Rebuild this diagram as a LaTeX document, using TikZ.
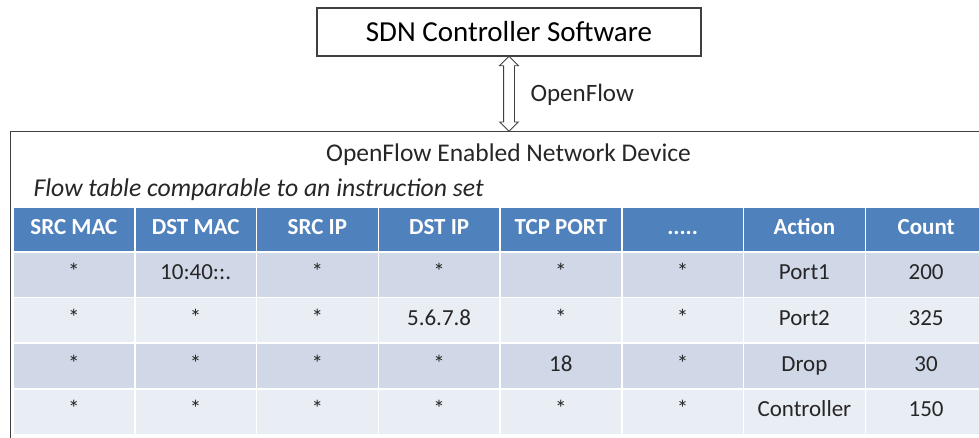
\documentclass[tikz,border=0pt]{standalone}
\usepackage{fontspec}
\setmainfont{Carlito}
\usetikzlibrary{shapes.arrows,calc}
\definecolor{hdrblue}{HTML}{4F81BD}
\definecolor{rowdark}{HTML}{D0D8E8}
\definecolor{rowlight}{HTML}{E9EDF4}
\definecolor{txtgray}{HTML}{262626}
\newcommand\moredots{.....}

\begin{document}
\begin{tikzpicture}[x=1pt,y=-1pt,
  box/.style={draw=black!75,line width=1.2pt,inner sep=0pt},
  cell/.style={draw=white,line width=1.5pt,minimum width=121.75pt,minimum height=45.6pt,
    inner sep=0pt,text height=13pt,text depth=3pt,text=txtgray,font=\fontsize{23}{27}\selectfont},
  head cell/.style={cell,fill=hdrblue,minimum height=45pt,text=white,font=\fontsize{23}{27}\selectfont\bfseries}]
  \useasboundingbox (0,0) rectangle (979,437);
  \clip (0,0) rectangle (979,437);

  \node[box,minimum width=384pt,minimum height=48pt,font=\fontsize{29}{34}\selectfont] (sdn) at (509,32) {SDN Controller Software};
  \node[box,anchor=north west,minimum width=1000pt,minimum height=340pt] (dev) at (10,131) {};
  \node[double arrow,draw=black!75,line width=0.8pt,rotate=90,inner sep=5pt,
    minimum height=75pt,minimum width=18pt,double arrow head extend=4pt]
    (ofarrow) at ($(sdn.south)!0.5!(sdn.south |- dev.north)$) {};
  \node[anchor=west,font=\fontsize{25}{30}\selectfont,text=txtgray] (oflabel) at (527,95) {OpenFlow};

  \node[font=\fontsize{25.5}{30}\selectfont,text=txtgray] (devname) at (508.5,155) {OpenFlow Enabled Network Device};
  \node[anchor=west,font=\fontsize{25.7}{30}\selectfont\itshape,text=txtgray] (tabname) at (30,190) {Flow table comparable to an instruction set};

  % header
  \foreach \t [count=\i from 0] in {SRC MAC,DST MAC,SRC IP,DST IP,TCP PORT,\moredots,Action,Count}
    \node[head cell] (h\i) at ({13+121.75*(\i+0.5)},229.5) {\t};

  % flow entries
  \foreach \t [count=\i from 0] in {*,10:40::.,*,*,*,*,Port1,200}
    \node[cell,fill=rowdark] (ra\i) at ({13+121.75*(\i+0.5)},274.8) {\t};
  \foreach \t [count=\i from 0] in {*,*,*,5.6.7.8,*,*,Port2,325}
    \node[cell,fill=rowlight] (rb\i) at ({13+121.75*(\i+0.5)},320.4) {\t};
  \foreach \t [count=\i from 0] in {*,*,*,*,18,*,Drop,30}
    \node[cell,fill=rowdark] (rc\i) at ({13+121.75*(\i+0.5)},366) {\t};
  \foreach \t [count=\i from 0] in {*,*,*,*,*,*,Controller,150}
    \node[cell,fill=rowlight] (rd\i) at ({13+121.75*(\i+0.5)},411.6) {\t};
\end{tikzpicture}
\end{document}
